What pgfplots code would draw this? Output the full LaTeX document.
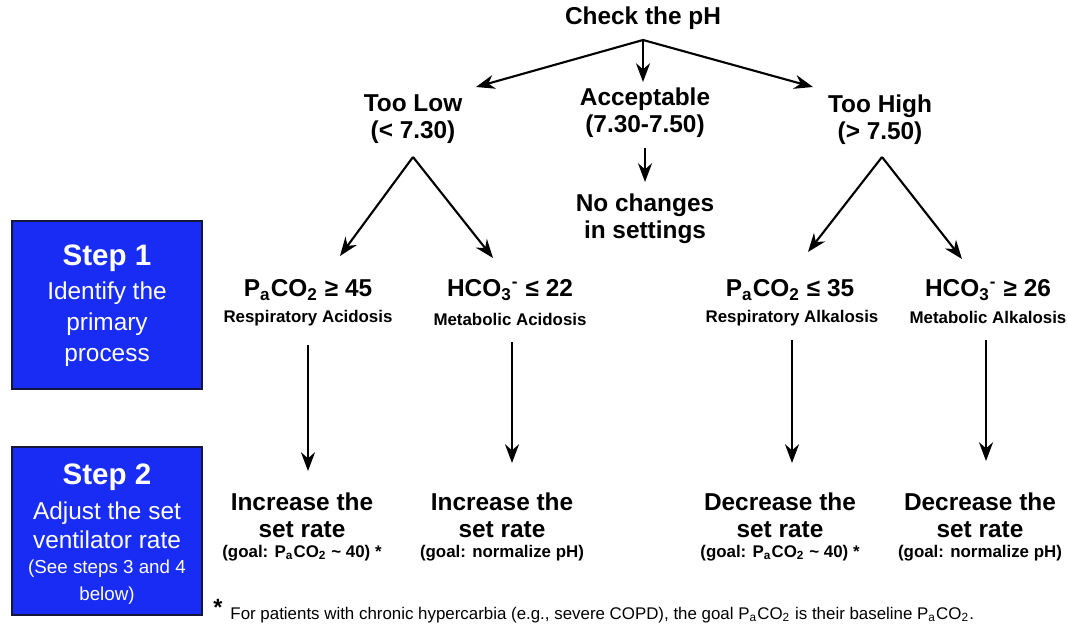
\documentclass[border=0pt]{standalone}
\usepackage{pgfplots}
\pgfplotsset{compat=1.18}
\usepackage{fontspec}
\setmainfont{Liberation Sans}
\usetikzlibrary{arrows.meta}
\definecolor{stepblue}{RGB}{24,44,244}
\definecolor{stepedge}{RGB}{20,22,60}
\newcommand{\pa}{P\textsubscript{a}CO\textsubscript{2}}
\newcommand{\hco}{HCO\textsubscript{3}\textsuperscript{-}}
\begin{document}
\begin{tikzpicture}
\tikzset{big/.style={align=center, inner sep=0pt, font=\fontsize{10.4}{11.6}\selectfont\bfseries},
         sm/.style={align=center, inner sep=0pt, font=\fontsize{7.2}{8}\selectfont\bfseries},
         wt/.style={align=center, inner sep=0pt, text=white}}
\begin{axis}[
  scale only axis, width=16cm, height=9.423cm,
  xmin=0, xmax=1068, ymin=0, ymax=629, y dir=reverse,
  axis lines=none, clip=false,
]
\addplot[draw=none] coordinates {(0,0) (1068,629)};
% boxes
\addplot[fill=stepblue, draw=stepedge, line width=1.2pt] coordinates {(12,221) (202,221) (202,389) (12,389)} --cycle;
\addplot[fill=stepblue, draw=stepedge, line width=1.2pt] coordinates {(12,447) (202,447) (202,615) (12,615)} --cycle;
% arrows
\pgfplotsset{arr/.style={black, line width=0.9pt, -{Stealth[length=8pt,width=6pt]}}}
\addplot[arr] coordinates {(643,40) (476,87)};
\addplot[arr] coordinates {(643,40) (643,82)};
\addplot[arr] coordinates {(643,40) (813,87)};
\addplot[arr] coordinates {(645,148) (645,182)};
\addplot[arr] coordinates {(413,157) (340,256)};
\addplot[arr] coordinates {(413,157) (493,258)};
\addplot[arr] coordinates {(882,157) (808,252)};
\addplot[arr] coordinates {(882,157) (962,259)};
\addplot[arr] coordinates {(308,345) (308,471)};
\addplot[arr] coordinates {(512,342) (512,463)};
\addplot[arr] coordinates {(792,340) (792,463)};
\addplot[arr] coordinates {(986,340) (986,461)};
% texts
\node[big] at (axis cs:643,18) {Check the pH};
\node[big] at (axis cs:413,119) {Too Low\\(< 7.30)};
\node[big] at (axis cs:645,113) {Acceptable\\(7.30-7.50)};
\node[big] at (axis cs:880,120) {Too High\\(> 7.50)};
\node[big] at (axis cs:645,219) {No changes\\in settings};
% step 1
\node[big] at (axis cs:308,290) {\pa{} ≥ 45};
\node[sm] at (axis cs:308,318) {Respiratory Acidosis};
\node[big] at (axis cs:510,290) {\hco{} ≤ 22};
\node[sm] at (axis cs:510,319) {Metabolic Acidosis};
\node[big] at (axis cs:790,290) {\pa{} ≤ 35};
\node[sm] at (axis cs:792,318) {Respiratory Alkalosis};
\node[big] at (axis cs:988,290) {\hco{} ≥ 26};
\node[sm] at (axis cs:988,317) {Metabolic Alkalosis};
% step 2
\node[big] at (axis cs:302,515) {Increase the\\set rate};
\node[sm] at (axis cs:302,553) {(goal: \pa{} \textasciitilde{} 40) *};
\node[big] at (axis cs:502,515) {Increase the\\set rate};
\node[sm] at (axis cs:502,553) {(goal: normalize pH)};
\node[big] at (axis cs:780,515) {Decrease the\\set rate};
\node[sm] at (axis cs:780,553) {(goal: \pa{} \textasciitilde{} 40) *};
\node[big] at (axis cs:980,515) {Decrease the\\set rate};
\node[sm] at (axis cs:980,553) {(goal: normalize pH)};
% step boxes text
\node[wt, font=\fontsize{12.6}{13}\selectfont\bfseries] at (axis cs:107,258) {Step 1};
\node[wt, font=\fontsize{10.4}{13.1}\selectfont] at (axis cs:107,324) {Identify the\\primary\\process};
\node[wt, font=\fontsize{12.6}{13}\selectfont\bfseries] at (axis cs:107,477) {Step 2};
\node[wt, font=\fontsize{10.4}{12.5}\selectfont] at (axis cs:107,525) {Adjust the set\\ventilator rate};
\node[wt, font=\fontsize{8}{11.8}\selectfont] at (axis cs:107,582) {(See steps 3 and 4\\below)};
% footnote
\node[inner sep=0pt, font=\fontsize{10}{10}\selectfont\bfseries] at (axis cs:218,607) {*};
\node[anchor=west, inner sep=0pt, font=\fontsize{7.2}{8}\selectfont] at (axis cs:230,615) {For patients with chronic hypercarbia (e.g., severe COPD), the goal \pa{} is their baseline \pa.};
\end{axis}
\pgfresetboundingbox
\path[use as bounding box] (current axis.south west) rectangle (current axis.north east);
\end{tikzpicture}
\end{document}
